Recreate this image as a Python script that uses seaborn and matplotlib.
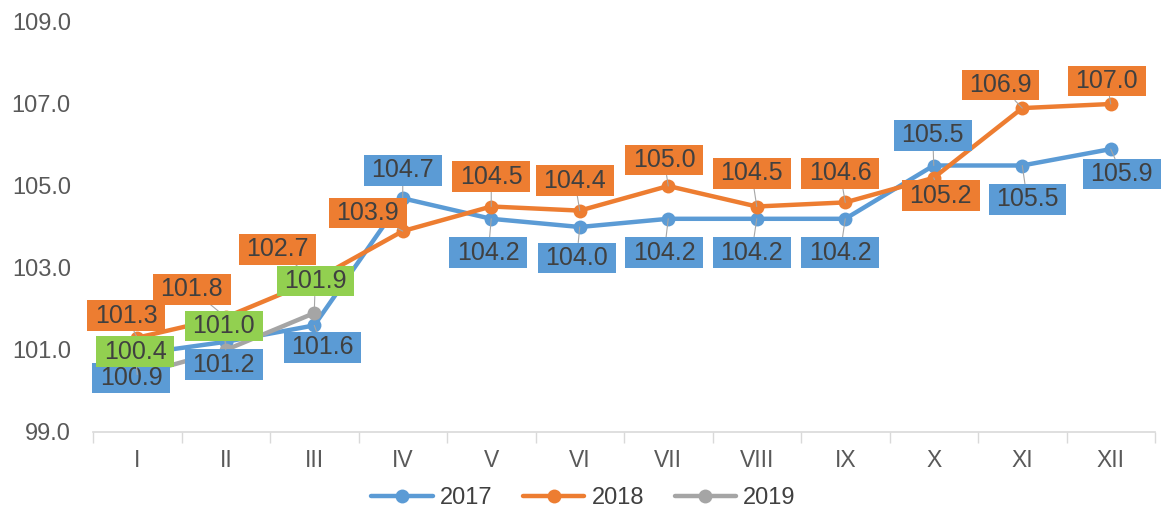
import numpy as np
import pandas as pd
import matplotlib.pyplot as plt
import seaborn as sns

months = ["I", "II", "III", "IV", "V", "VI", "VII", "VIII", "IX", "X", "XI", "XII"]
v2017 = [100.9, 101.2, 101.6, 104.7, 104.2, 104.0, 104.2, 104.2, 104.2, 105.5, 105.5, 105.9]
v2018 = [101.3, 101.8, 102.7, 103.9, 104.5, 104.4, 105.0, 104.5, 104.6, 105.2, 106.9, 107.0]
v2019 = [100.4, 101.0, 101.9]

# label offsets (pixels) from each point
off2017 = [(-6, -24), (-2, -23), (8, -22), (0, 28), (-3, -34), (-3, -31),
           (-4, -34), (-5, -34), (-5, -34), (-1, 30), (5, -34), (11, -25)]
off2018 = [(-11, 22), (-34, 28), (-37, 31), (-35, 18), (0, 30), (-5, 30),
           (-4, 26), (-5, 33), (-5, 29), (7, -18), (-22, 23), (-4, 23)]
off2019 = [(-2, 23), (-2, 24), (1, 32)]

line_colors = {"2017": "#5B9BD5", "2018": "#ED7D31", "2019": "#A5A5A5"}
box_colors = {"2017": "#5B9BD5", "2018": "#ED7D31", "2019": "#92D050"}

rows = []
for year, vals in [("2017", v2017), ("2018", v2018), ("2019", v2019)]:
    for i, v in enumerate(vals):
        rows.append({"year": year, "pos": i, "value": v})
df = pd.DataFrame(rows)

sns.set_theme(style="white")
plt.rcParams["font.family"] = ["Liberation Sans", "DejaVu Sans"]

fig = plt.figure(figsize=(11.67, 5.15), dpi=100)
ax = fig.add_axes([93 / 1167, 83 / 515, 1062 / 1167, 410 / 515])

sns.lineplot(data=df, x="pos", y="value", hue="year", palette=line_colors,
             marker="o", markersize=10, markeredgewidth=0, linewidth=3.2,
             ax=ax, legend=True)

for year, vals, offs in [("2017", v2017, off2017), ("2018", v2018, off2018),
                         ("2019", v2019, off2019)]:
    for i, (v, (dx, dy)) in enumerate(zip(vals, offs)):
        ax.annotate(f"{v:.1f}", xy=(i, v), xytext=(dx, dy), textcoords="offset pixels",
                    ha="center", va="center", fontsize=18, color="#404040",
                    bbox=dict(boxstyle="square,pad=0.3", mutation_aspect=0.45,
                              fc=box_colors[year], ec="none"),
                    arrowprops=dict(arrowstyle="-", color="#A6A6A6", lw=0.8,
                                    shrinkA=0, shrinkB=0),
                    zorder=5)

ax.set_xlim(-0.5, 11.5)
ax.set_ylim(99, 109)
ax.set_yticks(np.arange(99, 109.1, 2))
ax.set_yticklabels([f"{t:.1f}" for t in np.arange(99, 109.1, 2)])
ax.set_xticks(range(12))
ax.set_xticklabels(months)
ax.set_xticks(np.arange(-0.5, 12, 1), minor=True)
ax.tick_params(axis="x", which="major", length=0, pad=12, labelsize=16.5, labelcolor="#595959")
ax.tick_params(axis="x", which="minor", length=8, width=1, color="#D9D9D9", direction="out", bottom=True)
ax.tick_params(axis="y", length=0, pad=16, labelsize=17, labelcolor="#595959")
ax.set_xlabel("")
ax.set_ylabel("")
for s in ["top", "right", "left"]:
    ax.spines[s].set_visible(False)
ax.spines["bottom"].set_color("#D9D9D9")
ax.spines["bottom"].set_linewidth(1.2)

handles, labels = ax.get_legend_handles_labels()
ax.get_legend().remove()
fig.legend(handles, labels, loc="lower center", bbox_to_anchor=(0.5, -0.03), ncol=3,
           frameon=False, fontsize=17, handlelength=2.6, columnspacing=1.3,
           handletextpad=0.3, labelcolor="#404040")

fig.savefig("out.png", dpi=100)
